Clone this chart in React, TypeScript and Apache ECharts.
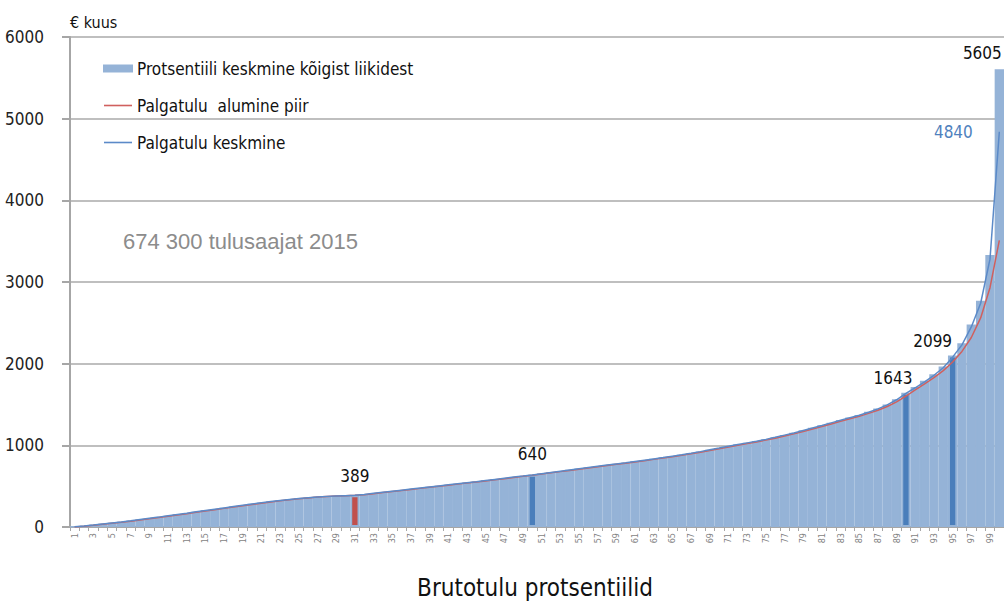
import React, { useEffect, useRef } from "react";
import * as echarts from "echarts";

const percentiles: string[] = Array.from({ length: 100 }, (_, i) => String(i + 1));

// Protsentiili keskmine kõigist liikidest (bars)
const barValues: number[] = [
  5, 15, 27, 40, 52, 64, 78, 93, 108, 123,
  139, 155, 171, 188, 204, 220, 236, 252, 268, 284,
  299, 313, 327, 339, 351, 361, 370, 377, 382, 386,
  389, 401, 414, 427, 440, 453, 466, 479, 492, 505,
  518, 531, 544, 557, 571, 585, 599, 613, 626, 640,
  655, 670, 685, 700, 715, 730, 745, 760, 774, 788,
  804, 820, 836, 852, 869, 886, 905, 925, 947, 968,
  990, 1012, 1032, 1052, 1075, 1100, 1128, 1155, 1185, 1215,
  1245, 1278, 1310, 1342, 1372, 1410, 1450, 1500, 1565, 1643,
  1715, 1790, 1870, 1965, 2099, 2250, 2480, 2770, 3330, 5605,
];

// Palgatulu alumine piir (red line)
const lowerBound: number[] = [
  0, 10, 21, 34, 46, 58, 71, 86, 100, 115,
  131, 147, 163, 180, 196, 212, 228, 244, 260, 276,
  292, 306, 320, 333, 345, 356, 366, 374, 380, 384,
  388, 395, 408, 421, 434, 447, 460, 473, 486, 499,
  512, 525, 538, 551, 564, 578, 592, 606, 620, 633,
  648, 663, 678, 693, 708, 723, 738, 753, 767, 781,
  796, 812, 828, 844, 861, 878, 896, 915, 936, 958,
  979, 1001, 1022, 1042, 1064, 1088, 1114, 1141, 1170, 1200,
  1230, 1261, 1294, 1326, 1357, 1391, 1430, 1475, 1532, 1604,
  1680, 1752, 1830, 1915, 2020, 2150, 2320, 2560, 2930, 3510,
];

// Palgatulu keskmine (blue line)
const wageMean: number[] = [
  3, 13, 25, 38, 50, 62, 76, 91, 106, 121,
  137, 153, 169, 186, 202, 218, 234, 250, 266, 282,
  297, 311, 325, 337, 349, 359, 368, 375, 380, 384,
  388, 399, 412, 425, 438, 451, 464, 477, 490, 503,
  516, 529, 542, 555, 569, 583, 597, 611, 624, 638,
  653, 668, 683, 698, 713, 728, 743, 758, 772, 786,
  802, 818, 834, 850, 867, 884, 903, 923, 945, 966,
  988, 1010, 1030, 1050, 1073, 1098, 1125, 1152, 1182, 1212,
  1242, 1275, 1307, 1339, 1368, 1406, 1446, 1495, 1558, 1635,
  1705, 1778, 1858, 1950, 2080, 2230, 2450, 2740, 3280, 4840,
];

// highlighted percentiles: [percentile, color, label dx, label dy]
const highlights: [number, string, number, number][] = [
  [31, "#c0504d", 0, -6],
  [50, "#4a7ebb", 0, -7],
  [90, "#4a7ebb", -13, -1],
  [95, "#4a7ebb", -20, -1],
];

const NARROW = "'DejaVu Sans Condensed', 'Liberation Sans Narrow', sans-serif";
const BAR_LIGHT = "#95b3d7";
const LINE_ICON = "path://M0,0L28,0L28,1.6L0,1.6Z";

export default function App() {
  const ref = useRef<HTMLDivElement>(null);

  useEffect(() => {
    if (!ref.current) return;
    const chart = echarts.init(ref.current, undefined, { renderer: "svg" });

    const labelBase = { show: true, position: "top", fontSize: 17, fontFamily: NARROW, color: "#111" };

    const barData: any[] = barValues.map((v, i) => {
      const pct = i + 1;
      const h = highlights.find((x) => x[0] === pct);
      if (h) {
        return {
          value: v,
          itemStyle: { color: h[1], borderColor: BAR_LIGHT, borderWidth: 2 },
          label: { ...labelBase, offset: [h[2], h[3]] },
        };
      }
      if (pct === 100) {
        return { value: v, label: { ...labelBase, offset: [-17, -3] } };
      }
      return v;
    });

    const lastIdx = wageMean.length - 1;

    chart.setOption({
      animation: false,
      backgroundColor: "#ffffff",
      grid: { left: 70, right: 0, top: 37, bottom: 76, containLabel: false },
      legend: {
        orient: "vertical",
        left: 98,
        top: 55,
        itemWidth: 28,
        itemHeight: 6,
        itemGap: 20,
        textStyle: { fontSize: 17, fontFamily: NARROW, color: "#111" },
        data: [
          { name: "Protsentiili keskmine kõigist liikidest", icon: "rect" },
          { name: "Palgatulu  alumine piir", icon: LINE_ICON },
          { name: "Palgatulu keskmine", icon: LINE_ICON },
        ],
      },
      xAxis: {
        type: "category",
        data: percentiles,
        boundaryGap: true,
        axisLine: { show: true, lineStyle: { color: "#a6a6a6", width: 2 } },
        axisTick: { show: true, interval: 0, length: 4, lineStyle: { color: "#a6a6a6" } },
        axisLabel: {
          interval: 1,
          rotate: 90,
          fontSize: 9,
          color: "#7f7f7f",
          fontFamily: NARROW,
          margin: 6,
        },
        splitLine: { show: false },
      },
      yAxis: {
        type: "value",
        min: 0,
        max: 6000,
        interval: 1000,
        axisLine: { show: true, lineStyle: { color: "#a6a6a6", width: 2 } },
        axisTick: { show: true, length: 8, lineStyle: { color: "#a6a6a6", width: 2 } },
        axisLabel: {
          fontSize: 17,
          fontFamily: NARROW,
          color: "#222",
          margin: 26,
          formatter: (v: number) => String(v),
        },
        splitLine: { show: true, lineStyle: { color: "#bfbfbf", width: 2 } },
      },
      series: [
        {
          name: "Protsentiili keskmine kõigist liikidest",
          type: "bar",
          data: barData,
          barCategoryGap: "0%",
          itemStyle: { color: BAR_LIGHT, borderColor: BAR_LIGHT, borderWidth: 1.5 },
          z: 2,
        },
        {
          name: "Palgatulu  alumine piir",
          type: "line",
          data: lowerBound,
          symbol: "none",
          showSymbol: false,
          lineStyle: { color: "#d0605e", width: 1.5 },
          itemStyle: { color: "#d0605e" },
          z: 3,
        },
        {
          name: "Palgatulu keskmine",
          type: "line",
          data: wageMean,
          symbol: "none",
          showSymbol: false,
          lineStyle: { color: "#5b8ac8", width: 1.5 },
          itemStyle: { color: "#5b8ac8" },
          z: 4,
          markPoint: {
            symbol: "circle",
            symbolSize: 1,
            itemStyle: { color: "rgba(0,0,0,0)" },
            label: {
              show: true,
              position: "left",
              distance: 26,
              fontSize: 17,
              fontFamily: NARROW,
              color: "#4f81bd",
              formatter: "{c}",
            },
            data: [{ coord: [percentiles[lastIdx], wageMean[lastIdx]], value: wageMean[lastIdx] }],
          },
        },
      ],
      graphic: [
        {
          type: "text",
          left: 70,
          top: 14,
          style: { text: "€ kuus", fontSize: 16, fontFamily: NARROW, fill: "#111" },
        },
        {
          type: "text",
          left: 123,
          top: 230,
          style: {
            text: "674 300 tulusaajat 2015",
            fontSize: 22,
            fontFamily: "'Liberation Sans', Arial, sans-serif",
            fill: "#8c8c8c",
          },
        },
        {
          type: "text",
          x: 535,
          y: 588,
          style: {
            text: "Brutotulu protsentiilid",
            fontSize: 24,
            fontFamily: NARROW,
            fill: "#111",
            align: "center",
            verticalAlign: "middle",
          },
        },
      ],
    });

    return () => chart.dispose();
  }, []);

  return (
    <div
      ref={ref}
      style={{ position: "fixed", left: 0, top: 0, width: 1004, height: 603 }}
    />
  );
}
